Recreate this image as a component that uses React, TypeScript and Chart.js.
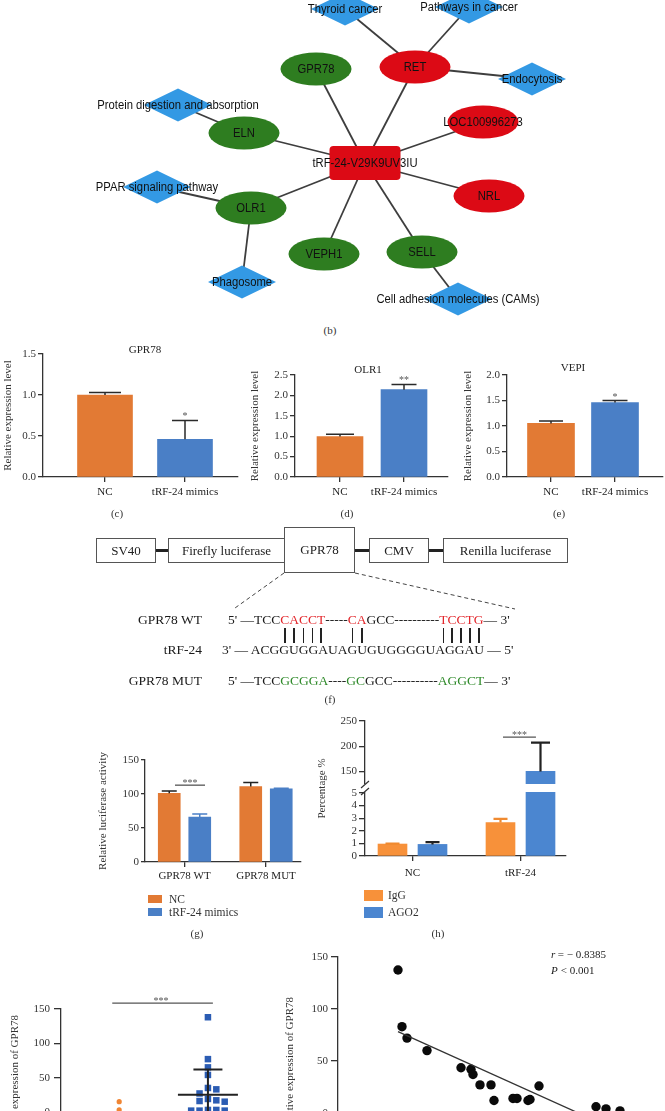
import React, { useEffect, useRef } from 'react';
import { Chart, registerables, LinearScale } from 'chart.js';

const SERIF = '"Liberation Serif", "Times New Roman", serif';
const SANS = '"Liberation Sans", Arial, sans-serif';

/* ---------------- (b) interaction network ---------------- */
const netLabels = ['tRF-24-V29K9UV3IU', 'GPR78', 'RET', 'LOC100996273', 'NRL', 'SELL', 'VEPH1', 'OLR1', 'ELN',
  'Thyroid cancer', 'Pathways in cancer', 'Endocytosis', 'Protein digestion and absorption',
  'PPAR signaling pathway', 'Phagosome', 'Cell adhesion molecules (CAMs)'];
const netKinds = ['trf', 'down', 'up', 'up', 'up', 'down', 'down', 'down', 'down',
  'path', 'path', 'path', 'path', 'path', 'path', 'path'];
const netX = [365, 316, 415, 483, 489, 422, 324, 251, 244, 345, 469, 532, 178, 157, 242, 458];
const netY = [163, 69, 67, 122, 196, 252, 254, 208, 133, 9, 7, 79, 105, 187, 282, 299];
const netEdges = [[0, 1], [0, 2], [0, 3], [0, 4], [0, 5], [0, 6], [0, 7], [0, 8],
  [2, 9], [2, 10], [2, 11], [8, 12], [7, 13], [7, 14], [5, 15]];

/* ---------------- (c)(d)(e) expression ---------------- */
const pcrGroups = ['NC', 'tRF-24 mimics'];
const gpr78Level = [1.0, 0.46];
const gpr78Sd = [0.03, 0.23];
const gpr78Sig = ['', '*'];
const olr1Level = [0.99, 2.14];
const olr1Sd = [0.06, 0.13];
const olr1Sig = ['', '**'];
const vepiLevel = [1.05, 1.46];
const vepiSd = [0.05, 0.04];
const vepiSig = ['', '*'];

/* ---------------- (g) luciferase ---------------- */
const lucGroups = ['GPR78 WT', 'GPR78 MUT'];
const lucNC = [101, 111];
const lucNCSd = [3.5, 6];
const lucMimics = [66, 107.5];
const lucMimicsSd = [4.5, 1];

/* ---------------- (h) RIP ---------------- */
const ripGroups = ['NC', 'tRF-24'];
const ripIgG = [0.95, 2.65];
const ripIgGSd = [0.04, 0.3];
const ripAGO2 = [0.92, 150];
const ripAGO2Sd = [0.18, 57];
const ripTicks = [0, 1, 2, 3, 4, 5, 150, 200, 250];
const ripBreak = { low: 5, high: 125, lowFrac: 63 / 135, highFrac: 72 / 135 };

/* ---------------- (i) tissues ---------------- */
const tissueNormal = [15, 3];
const tissueTumor = [138, 77, 65, 54, 35, 33, 27, 19, 17, 16, 15, 3, 3, 2, 2, 2];
const tumorMean = 25;
const tumorSd = 37;

/* ---------------- (j) correlation ---------------- */
const corrTrf = [1.5, 1.6, 1.725, 2.225, 3.075, 3.325, 3.375, 3.55, 3.825, 3.9, 4.375, 4.475, 4.75, 4.8, 5.025, 6.45, 6.7, 7.05];
const corrGpr78 = [137.5, 83, 72, 60, 43.5, 42, 37, 27, 27, 12, 14, 14, 12, 13, 26, 6, 4, 2];

/* ---------------- colours ---------------- */
const ORANGE = '#e27a34';
const BLUE = '#4a7fc6';
const H_ORANGE = '#f7913a';
const H_BLUE = '#4b86d0';
const AX = '#333333';
const NET_RED = '#dc0a15';
const NET_GREEN = '#2e7d20';
const NET_BLUE = '#3399e4';

class BrokenLinearScale extends LinearScale {
  static id = 'brokenLinear';
  static defaults = {};
  buildTicks() {
    return ripTicks.map((v) => ({ value: v }));
  }
  getPixelForValue(value: number) {
    const b = ripBreak;
    const H = (this as any).bottom - (this as any).top;
    const min = (this as any).min;
    const max = (this as any).max;
    let f: number;
    if (value <= b.low) f = ((value - min) / (b.low - min)) * b.lowFrac;
    else if (value >= b.high) f = b.highFrac + ((value - b.high) / (max - b.high)) * (1 - b.highFrac);
    else f = b.lowFrac + ((value - b.low) / (b.high - b.low)) * (b.highFrac - b.lowFrac);
    return (this as any).bottom - f * H;
  }
  getValueForPixel(pixel: number) {
    const b = ripBreak;
    const H = (this as any).bottom - (this as any).top;
    const f = ((this as any).bottom - pixel) / H;
    const min = (this as any).min;
    const max = (this as any).max;
    if (f <= b.lowFrac) return min + (f / b.lowFrac) * (b.low - min);
    if (f >= b.highFrac) return b.high + ((f - b.highFrac) / (1 - b.highFrac)) * (max - b.high);
    return b.low + ((f - b.lowFrac) / (b.highFrac - b.lowFrac)) * (b.high - b.low);
  }
}

Chart.register(...registerables, BrokenLinearScale as any);

type Txt = {
  text: string; x: number; y: number; size?: number; font?: string; color?: string;
  align?: CanvasTextAlign; baseline?: CanvasTextBaseline; rot?: number; italic?: boolean; sx?: number;
};

function drawTexts(ctx: CanvasRenderingContext2D, items: Txt[], ox: number, oy: number) {
  items.forEach((t) => {
    ctx.save();
    ctx.translate(t.x - ox, t.y - oy);
    if (t.rot) ctx.rotate(t.rot);
    if (t.sx) ctx.scale(t.sx, 1);
    ctx.font = `${t.italic ? 'italic ' : ''}${t.size ?? 11}px ${t.font ?? SERIF}`;
    ctx.fillStyle = t.color ?? '#222';
    ctx.textAlign = t.align ?? 'center';
    ctx.textBaseline = t.baseline ?? 'middle';
    ctx.fillText(t.text, 0, 0);
    ctx.restore();
  });
}

function drawStars(ctx: CanvasRenderingContext2D, text: string, x: number, baseline: number) {
  ctx.save();
  ctx.font = `10px ${SERIF}`;
  ctx.fillStyle = '#555';
  ctx.textAlign = 'center';
  ctx.textBaseline = 'alphabetic';
  ctx.fillText(text, x, baseline);
  ctx.restore();
}

const tickFont = { family: SERIF, size: 11 };
const border = { display: true, color: AX, width: 1.3 };
const tickGrid = (len: number) => ({
  display: true, drawOnChartArea: false, drawTicks: true, tickLength: len, color: AX, lineWidth: 1.3,
});

function makeBarConfig(p: any) {
  const xMin = (p.axisX - p.cat0Px) / p.unitPx;
  const xMax = (p.axisRight - p.cat0Px) / p.unitPx;
  const yAxisW = p.axisX - p.left;
  const xAxisH = p.top + p.height - p.baseY;
  const xOf = (i: number, s: any) => i + s.offsetPx / p.unitPx;
  const datasets = p.series.map((s: any) => ({
    type: 'bar',
    data: p.cats.map((_: string, i: number) => ({ x: xOf(i, s), y: s.values[i] })),
    backgroundColor: s.color,
    borderWidth: 0,
    barThickness: p.barW,
    grouped: false,
  }));
  const overlay = {
    id: 'barOverlay',
    afterDatasetsDraw(chart: any) {
      const ctx = chart.ctx as CanvasRenderingContext2D;
      const xs = chart.scales.x;
      const ys = chart.scales.y;
      ctx.save();
      p.series.forEach((s: any) => {
        s.values.forEach((v: number, i: number) => {
          const x = xs.getPixelForValue(xOf(i, s));
          const y0 = ys.getPixelForValue(v);
          const y1 = ys.getPixelForValue(v + s.errs[i]);
          const cw = s.capW[i];
          ctx.strokeStyle = s.errColor;
          ctx.lineWidth = p.errW;
          ctx.beginPath();
          ctx.moveTo(x, y0);
          ctx.lineTo(x, y1);
          ctx.moveTo(x - cw / 2, y1);
          ctx.lineTo(x + cw / 2, y1);
          ctx.stroke();
          const st = s.sig ? s.sig[i] : '';
          if (st) drawStars(ctx, st, x, y1 - 1);
        });
      });
      (p.sigLines || []).forEach((l: any) => {
        const xa = xs.getPixelForValue(l.x0);
        const xb = xs.getPixelForValue(l.x1);
        const y = ys.getPixelForValue(l.y);
        ctx.strokeStyle = '#555';
        ctx.lineWidth = 1.3;
        ctx.beginPath();
        ctx.moveTo(xa, y);
        ctx.lineTo(xb, y);
        ctx.stroke();
        drawStars(ctx, l.text, (xa + xb) / 2, y + 1);
      });
      if (p.after) p.after(chart, ctx);
      drawTexts(ctx, p.texts || [], p.left, p.top);
      ctx.restore();
    },
  };
  const yScale = {
    type: p.yType || 'linear',
    min: 0,
    max: p.yMax,
    afterFit: (sc: any) => { sc.width = yAxisW; },
    border,
    grid: tickGrid(p.yTick),
    ticks: {
      stepSize: p.step,
      font: tickFont,
      color: '#333',
      padding: p.yPad,
      callback: (v: any) => Number(v).toFixed(p.decimals),
    },
    title: {
      display: true, text: p.yTitle, font: tickFont, color: '#333',
      padding: { top: p.yTitleX - p.left - 6.6, bottom: 0 },
    },
  };
  return {
    type: 'bar',
    data: { datasets },
    options: {
      animation: false,
      responsive: true,
      maintainAspectRatio: false,
      events: [],
      layout: { padding: { left: 0, top: p.axisTopY - p.top, right: p.left + p.width - p.axisRight, bottom: 0 } },
      plugins: { legend: { display: false }, tooltip: { enabled: false } },
      scales: {
        x: {
          type: 'linear',
          min: xMin,
          max: xMax,
          offset: false,
          afterBuildTicks: (sc: any) => { sc.ticks = p.cats.map((_: string, i: number) => ({ value: i })); },
          afterFit: (sc: any) => { sc.height = xAxisH; },
          border,
          grid: { ...tickGrid(5), offset: false },
          ticks: {
            autoSkip: false, maxRotation: 0, minRotation: 0, font: tickFont, color: '#222', padding: p.xPad,
            callback: (v: any) => p.cats[Math.round(Number(v))] ?? '',
          },
        },
        y: yScale,
      },
    },
    plugins: [overlay],
  };
}

function swarmOffsets(values: number[], pxPerUnit: number, size: number, step: number): number[] {
  const order = values.map((_, i) => i).sort((a, b) => values[b] - values[a]);
  const placed: { x: number; y: number }[] = [];
  const out = new Array(values.length).fill(0);
  for (const idx of order) {
    const y = values[idx] * pxPerUnit;
    for (let k = 0; k < 60; k++) {
      const m = k === 0 ? 0 : (k % 2 === 1 ? (k + 1) / 2 : -k / 2);
      const x = m * step;
      if (placed.every((q) => Math.abs(q.x - x) >= size - 0.01 || Math.abs(q.y - y) >= size)) {
        placed.push({ x, y });
        out[idx] = x;
        break;
      }
    }
  }
  return out;
}

/* ---------------- chart builders ---------------- */
function networkConfig() {
  const nodes = {
    id: 'netNodes',
    afterDatasetsDraw(chart: any) {
      const ctx = chart.ctx as CanvasRenderingContext2D;
      const xs = chart.scales.x;
      const ys = chart.scales.y;
      ctx.save();
      netLabels.forEach((_, i) => {
        const px = xs.getPixelForValue(netX[i]);
        const py = ys.getPixelForValue(netY[i]);
        const kind = netKinds[i];
        ctx.beginPath();
        if (kind === 'trf') {
          ctx.fillStyle = NET_RED;
          (ctx as any).roundRect(px - 35.5, py - 17, 71, 34, 4);
        } else if (kind === 'path') {
          ctx.fillStyle = NET_BLUE;
          ctx.moveTo(px, py - 16.5);
          ctx.lineTo(px + 34, py);
          ctx.lineTo(px, py + 16.5);
          ctx.lineTo(px - 34, py);
          ctx.closePath();
        } else {
          ctx.fillStyle = kind === 'up' ? NET_RED : NET_GREEN;
          ctx.ellipse(px, py, 35.5, 16.5, 0, 0, Math.PI * 2);
        }
        ctx.fill();
      });
      const items: Txt[] = netLabels.map((label, i) => ({
        text: label, x: xs.getPixelForValue(netX[i]), y: ys.getPixelForValue(netY[i]) + 0.5,
        size: 12.5, font: SANS, color: '#111', sx: 0.9,
      }));
      drawTexts(ctx, items, 0, 0);
      ctx.restore();
    },
  };
  return {
    type: 'scatter',
    data: {
      datasets: netEdges.map(([a, b]) => ({
        data: [{ x: netX[a], y: netY[a] }, { x: netX[b], y: netY[b] }],
        showLine: true, borderColor: '#3e3e3e', borderWidth: 1.8, pointRadius: 0,
      })),
    },
    options: {
      animation: false, responsive: true, maintainAspectRatio: false, events: [],
      layout: { padding: 0 },
      plugins: { legend: { display: false }, tooltip: { enabled: false } },
      scales: {
        x: { type: 'linear', display: false, min: 0, max: 665 },
        y: { type: 'linear', display: false, min: 0, max: 322, reverse: true },
      },
    },
    plugins: [nodes],
  };
}

function exprConfig(o: any) {
  return makeBarConfig({
    ...o,
    cats: pcrGroups,
    series: [{ values: o.values, errs: o.errs, color: [ORANGE, BLUE], errColor: '#2a2a2a', offsetPx: 0, capW: o.capW, sig: o.sig }],
    errW: 1.5, step: 0.5, decimals: 1, yTitle: 'Relative expression level', yTick: 5, yPad: 2, xPad: 4,
  });
}

function lucConfig() {
  return makeBarConfig({
    left: 95, top: 745, width: 215, height: 147,
    axisX: 145, axisTopY: 760, baseY: 862, axisRight: 301, cat0Px: 184.5, unitPx: 81.5,
    cats: lucGroups,
    series: [
      { values: lucNC, errs: lucNCSd, color: ORANGE, errColor: '#222', offsetPx: -15.25, capW: [15, 15] },
      { values: lucMimics, errs: lucMimicsSd, color: BLUE, errColor: BLUE, offsetPx: 15.25, capW: [15, 15] },
    ],
    barW: 22, errW: 1.5, yMax: 150, step: 50, decimals: 0,
    yTitle: 'Relative luciferase activity', yTitleX: 103, yTick: 4, yPad: 2, xPad: 3,
    sigLines: [{ x0: -0.117, x1: 0.252, y: 113, text: '***' }],
  });
}

function ripConfig() {
  return makeBarConfig({
    left: 310, top: 710, width: 260, height: 175,
    axisX: 365, axisTopY: 721, baseY: 856, axisRight: 566, cat0Px: 412.5, unitPx: 108,
    cats: ripGroups,
    series: [
      { values: ripIgG, errs: ripIgGSd, color: H_ORANGE, errColor: '#f08a30', offsetPx: -20, capW: [14, 14] },
      { values: ripAGO2, errs: ripAGO2Sd, color: H_BLUE, errColor: '#222', offsetPx: 20, capW: [14, 19] },
    ],
    barW: 29, errW: 2.2, yMax: 250, step: 1, decimals: 0, yType: 'brokenLinear',
    yTitle: 'Percentage %', yTitleX: 322, yTick: 6, yPad: 2, xPad: 6,
    sigLines: [{ x0: 0.838, x1: 1.143, y: 218, text: '***' }],
    after: (chart: any, ctx: CanvasRenderingContext2D) => {
      const ys = chart.scales.y;
      const area = chart.chartArea;
      const yTop = ys.getPixelForValue(ripBreak.high);
      const yBot = ys.getPixelForValue(ripBreak.low) - 1;
      ctx.fillStyle = '#ffffff';
      ctx.fillRect(area.left - 1.5, yTop, area.right - area.left + 3, yBot - yTop);
      ctx.strokeStyle = AX;
      ctx.lineWidth = 1.2;
      const x = area.left;
      ctx.beginPath();
      ctx.moveTo(x - 4, yBot + 3);
      ctx.lineTo(x + 4, yBot - 4);
      ctx.moveTo(x - 4, yTop + 4);
      ctx.lineTo(x + 4, yTop - 3);
      ctx.stroke();
    },
  });
}

function tissueConfig() {
  const left = 0, top = 985, width = 250, height = 160;
  const axisX = 61, axisTopY = 1009, baseY = 1112, axisRight = 248, cat0Px = 120, unitPx = 90;
  const pxPerUnit = (baseY - axisTopY) / 150;
  const offN = swarmOffsets(tissueNormal, pxPerUnit, 5.5, 6);
  const offT = swarmOffsets(tissueTumor, pxPerUnit, 7.5, 8.5);
  const overlay = {
    id: 'tissueOverlay',
    afterDatasetsDraw(chart: any) {
      const ctx = chart.ctx as CanvasRenderingContext2D;
      const xs = chart.scales.x;
      const ys = chart.scales.y;
      ctx.save();
      const x = xs.getPixelForValue(1);
      const ym = ys.getPixelForValue(tumorMean);
      const yu = ys.getPixelForValue(tumorMean + tumorSd);
      const yl = ys.getPixelForValue(tumorMean - tumorSd);
      ctx.strokeStyle = '#222';
      ctx.lineWidth = 2;
      ctx.beginPath();
      ctx.moveTo(x - 30, ym); ctx.lineTo(x + 30, ym);
      ctx.moveTo(x, yl); ctx.lineTo(x, yu);
      ctx.moveTo(x - 14.5, yu); ctx.lineTo(x + 14.5, yu);
      ctx.stroke();
      const xa = xs.getPixelForValue(-0.078);
      const xb = xs.getPixelForValue(1.056);
      const ys2 = ys.getPixelForValue(158.7);
      ctx.strokeStyle = '#555';
      ctx.lineWidth = 1.3;
      ctx.beginPath(); ctx.moveTo(xa, ys2); ctx.lineTo(xb, ys2); ctx.stroke();
      drawStars(ctx, '***', 161, ys2 + 1);
      drawTexts(ctx, [{ text: 'Relative expression of GPR78', x: 15, y: 1015, rot: -Math.PI / 2, align: 'right', color: '#333' }], left, top);
      ctx.restore();
    },
  };
  return {
    type: 'scatter',
    data: {
      datasets: [
        { data: tissueNormal.map((v, i) => ({ x: 0 + offN[i] / unitPx, y: v })), pointStyle: 'circle', pointRadius: 2.6, backgroundColor: '#f08533', borderWidth: 0, clip: false },
        { data: tissueTumor.map((v, i) => ({ x: 1 + offT[i] / unitPx, y: v })), pointStyle: 'rect', pointRadius: 4.6, backgroundColor: '#2b5cb3', borderWidth: 0, clip: false },
      ],
    },
    options: {
      animation: false, responsive: true, maintainAspectRatio: false, events: [],
      layout: { padding: { left: 0, top: axisTopY - top, right: left + width - axisRight, bottom: 0 } },
      plugins: { legend: { display: false }, tooltip: { enabled: false } },
      scales: {
        x: {
          type: 'linear', min: (axisX - cat0Px) / unitPx, max: (axisRight - cat0Px) / unitPx,
          afterFit: (sc: any) => { sc.height = top + height - baseY; },
          border, grid: { display: false }, ticks: { display: false },
        },
        y: {
          type: 'linear', min: 0, max: 150,
          afterFit: (sc: any) => { sc.width = axisX - left; },
          border, grid: tickGrid(7),
          ticks: { stepSize: 50, font: tickFont, color: '#333', padding: 4 },
        },
      },
    },
    plugins: [overlay],
  };
}

function corrConfig() {
  const left = 250, top = 940, width = 415, height = 205;
  const axisX = 338, axisTopY = 957, baseY = 1113, axisRight = 650;
  const n = corrTrf.length;
  const mx = corrTrf.reduce((a, b) => a + b, 0) / n;
  const my = corrGpr78.reduce((a, b) => a + b, 0) / n;
  let sxy = 0, sxx = 0;
  corrTrf.forEach((x, i) => { sxy += (x - mx) * (corrGpr78[i] - my); sxx += (x - mx) * (x - mx); });
  const slope = sxy / sxx;
  const icpt = my - slope * mx;
  const x0 = Math.min(...corrTrf);
  const x1 = Math.max(...corrTrf);
  const overlay = {
    id: 'corrOverlay',
    afterDatasetsDraw(chart: any) {
      const ctx = chart.ctx as CanvasRenderingContext2D;
      drawTexts(ctx, [
        { text: 'Relative expression of GPR78', x: 290, y: 997, rot: -Math.PI / 2, align: 'right', color: '#333' },
        { text: 'r', x: 551, y: 955, italic: true, align: 'left' },
        { text: ' = − 0.8385', x: 555, y: 955, align: 'left' },
        { text: 'P', x: 551, y: 971, italic: true, align: 'left' },
        { text: ' < 0.001', x: 558, y: 971, align: 'left' },
      ], left, top);
    },
  };
  return {
    type: 'scatter',
    data: {
      datasets: [
        { type: 'line', data: [{ x: x0, y: icpt + slope * x0 }, { x: x1, y: icpt + slope * x1 }], borderColor: '#333', borderWidth: 1.3, pointRadius: 0, showLine: true },
        { data: corrTrf.map((x, i) => ({ x, y: corrGpr78[i] })), pointRadius: 4.7, backgroundColor: '#0a0a0a', borderWidth: 0, clip: false },
      ],
    },
    options: {
      animation: false, responsive: true, maintainAspectRatio: false, events: [],
      layout: { padding: { left: 0, top: axisTopY - top, right: left + width - axisRight, bottom: 0 } },
      plugins: { legend: { display: false }, tooltip: { enabled: false } },
      scales: {
        x: {
          type: 'linear', min: 0, max: (axisRight - axisX) / 40,
          afterFit: (sc: any) => { sc.height = top + height - baseY; },
          border, grid: { display: false }, ticks: { display: false },
        },
        y: {
          type: 'linear', min: 0, max: 150,
          afterFit: (sc: any) => { sc.width = axisX - left; },
          border, grid: tickGrid(7),
          ticks: { stepSize: 50, font: tickFont, color: '#333', padding: 3 },
        },
      },
    },
    plugins: [overlay],
  };
}

/* ---------------- components ---------------- */
function ChartBox({ left, top, width, height, make }: any) {
  const ref = useRef<HTMLCanvasElement | null>(null);
  useEffect(() => {
    if (!ref.current) return;
    const chart = new Chart(ref.current, make());
    return () => chart.destroy();
  }, []);
  return (
    <div style={{ position: 'absolute', left, top, width, height }}>
      <canvas ref={ref} />
    </div>
  );
}

function PanelLabel({ x, y, text }: any) {
  return (
    <div style={{ position: 'absolute', left: x - 30, top: y - 8, width: 60, height: 16, lineHeight: '16px', textAlign: 'center', fontSize: 11, color: '#333' }}>{text}</div>
  );
}

function LegendItem({ x, y, w, h, color, text, tx, ty }: any) {
  return (
    <>
      <div style={{ position: 'absolute', left: x, top: y, width: w, height: h, background: color }} />
      <div style={{ position: 'absolute', left: tx, top: ty - 8, height: 16, lineHeight: '16px', fontSize: 11.5, whiteSpace: 'pre', color: '#333' }}>{text}</div>
    </>
  );
}

const SEQ_RED = '#e3262b';
const SEQ_GREEN = '#2f8a2a';
type Seg = { t: string; c?: string; pair?: boolean };
const wtSeq: Seg[] = [{ t: "5' —TCC" }, { t: 'CACCT', c: SEQ_RED, pair: true }, { t: '-----' }, { t: 'CA', c: SEQ_RED, pair: true }, { t: 'GCC----------' }, { t: 'TCCTG', c: SEQ_RED, pair: true }, { t: "— 3'" }];
const trfSeq: Seg[] = [{ t: "3' — ACGGUGGAUAGUGUGGGGUAGGAU — 5'" }];
const mutSeq: Seg[] = [{ t: "5' —TCC" }, { t: 'GCGGA', c: SEQ_GREEN }, { t: '----' }, { t: 'GC', c: SEQ_GREEN }, { t: 'GCC----------' }, { t: 'AGGCT', c: SEQ_GREEN }, { t: "— 3'" }];

function SeqRow({ segs, left, cy }: { segs: Seg[]; left: number; cy: number }) {
  return (
    <div style={{ position: 'absolute', left, top: cy - 8, height: 16, lineHeight: '16px', fontSize: 13.5, whiteSpace: 'pre', color: '#1a1a1a' }}>
      {segs.map((s, i) =>
        s.pair ? (
          <span key={i} style={{ color: s.c }}>
            {s.t.split('').map((ch, j) => (
              <span key={j} style={{ display: 'inline-block', position: 'relative' }}>
                {ch}
                <span style={{ position: 'absolute', left: '50%', marginLeft: -0.8, top: 16, width: 1.6, height: 15, background: '#222' }} />
              </span>
            ))}
          </span>
        ) : (
          <span key={i} style={{ color: s.c }}>{s.t}</span>
        )
      )}
    </div>
  );
}

function Box({ x0, x1, y0, y1, text }: any) {
  return (
    <div style={{ position: 'absolute', left: x0, top: y0, width: x1 - x0, height: y1 - y0, border: '1.2px solid #555', boxSizing: 'border-box', display: 'flex', alignItems: 'center', justifyContent: 'center', fontSize: 13, color: '#222', background: '#fff' }}>{text}</div>
  );
}

function Connector({ x0, x1 }: any) {
  return <div style={{ position: 'absolute', left: x0, top: 549, width: x1 - x0, height: 3, background: '#222' }} />;
}

function ConstructDiagram() {
  return (
    <>
      <Connector x0={156} x1={168} />
      <Connector x0={355} x1={369} />
      <Connector x0={429} x1={443} />
      <Box x0={96} x1={156} y0={538} y1={563} text="SV40" />
      <Box x0={168} x1={285} y0={538} y1={563} text="Firefly luciferase" />
      <Box x0={284} x1={355} y0={527} y1={573} text="GPR78" />
      <Box x0={369} x1={429} y0={538} y1={563} text="CMV" />
      <Box x0={443} x1={568} y0={538} y1={563} text="Renilla luciferase" />
      <svg width={665} height={1111} style={{ position: 'absolute', left: 0, top: 0, pointerEvents: 'none' }}>
        <line x1={284} y1={573} x2={235} y2={608} stroke="#444" strokeWidth={1} strokeDasharray="4 3" />
        <line x1={355} y1={573} x2={515} y2={609} stroke="#444" strokeWidth={1} strokeDasharray="4 3" />
      </svg>
      {[['GPR78 WT', 620], ['tRF-24', 650], ['GPR78 MUT', 681]].map(([t, y]) => (
        <div key={t as string} style={{ position: 'absolute', left: 100, width: 102, top: (y as number) - 8, height: 16, lineHeight: '16px', textAlign: 'right', fontSize: 13.5, color: '#1a1a1a', whiteSpace: 'pre' }}>{t}</div>
      ))}
      <SeqRow segs={wtSeq} left={228} cy={620} />
      <SeqRow segs={trfSeq} left={222} cy={650} />
      <SeqRow segs={mutSeq} left={228} cy={681} />
    </>
  );
}

export default function App() {
  return (
    <div style={{ position: 'relative', width: 665, height: 1111, overflow: 'hidden', background: '#fff', fontFamily: SERIF, color: '#222' }}>
      <style>{'html,body{margin:0;padding:0;overflow:hidden;background:#fff;}'}</style>
      <ChartBox left={0} top={0} width={665} height={322} make={networkConfig} />
      <PanelLabel x={330} y={330} text="(b)" />

      <ChartBox left={0} top={340} width={245} height={170} make={() => exprConfig({
        left: 0, top: 340, width: 245, height: 170, axisX: 43, axisTopY: 354, baseY: 477, axisRight: 238,
        cat0Px: 105, unitPx: 80, barW: 55, capW: [32, 26], yMax: 1.5, yTitleX: 8,
        values: gpr78Level, errs: gpr78Sd, sig: gpr78Sig,
        texts: [{ text: 'GPR78', x: 145, y: 350 }],
      })} />
      <ChartBox left={245} top={355} width={210} height={155} make={() => exprConfig({
        left: 245, top: 355, width: 210, height: 155, axisX: 295, axisTopY: 375, baseY: 477, axisRight: 448,
        cat0Px: 340, unitPx: 64, barW: 46, capW: [28, 25], yMax: 2.5, yTitleX: 255,
        values: olr1Level, errs: olr1Sd, sig: olr1Sig,
        texts: [{ text: 'OLR1', x: 368, y: 370 }],
      })} />
      <ChartBox left={455} top={355} width={210} height={155} make={() => exprConfig({
        left: 455, top: 355, width: 210, height: 155, axisX: 507, axisTopY: 375, baseY: 477, axisRight: 663,
        cat0Px: 551, unitPx: 64, barW: 47, capW: [24, 25], yMax: 2.0, yTitleX: 468,
        values: vepiLevel, errs: vepiSd, sig: vepiSig,
        texts: [{ text: 'VEPI', x: 573, y: 368 }],
      })} />
      <PanelLabel x={117} y={513} text="(c)" />
      <PanelLabel x={347} y={513} text="(d)" />
      <PanelLabel x={559} y={513} text="(e)" />

      <ConstructDiagram />
      <PanelLabel x={330} y={699} text="(f)" />

      <ChartBox left={95} top={745} width={215} height={147} make={lucConfig} />
      <ChartBox left={310} top={710} width={260} height={175} make={ripConfig} />
      <LegendItem x={148} y={895} w={14} h={8} color={ORANGE} text="NC" tx={169} ty={899} />
      <LegendItem x={148} y={908} w={14} h={8} color={BLUE} text="tRF-24 mimics" tx={169} ty={912} />
      <LegendItem x={364} y={890} w={19} h={11} color={H_ORANGE} text="IgG" tx={388} ty={895} />
      <LegendItem x={364} y={907} w={19} h={11} color={H_BLUE} text="AGO2" tx={388} ty={912} />
      <PanelLabel x={197} y={933} text="(g)" />
      <PanelLabel x={438} y={933} text="(h)" />

      <ChartBox left={250} top={940} width={415} height={205} make={corrConfig} />
      <ChartBox left={0} top={985} width={250} height={160} make={tissueConfig} />
    </div>
  );
}
